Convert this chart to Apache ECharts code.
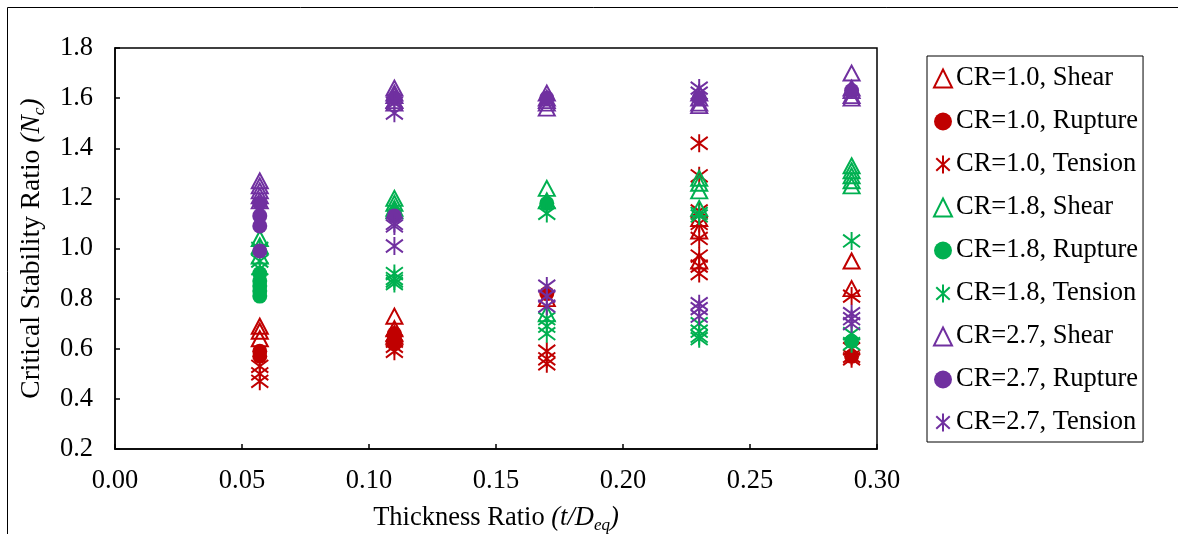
<!DOCTYPE html>
<html>
<head>
<meta charset="utf-8">
<script src="https://cdn.jsdelivr.net/npm/echarts@6/dist/echarts.min.js"></script>
<style>
html,body{margin:0;padding:0;background:#fff;}
#c{width:1178px;height:534px;}
</style>
</head>
<body>
<div id="c"></div>
<script>
// ---- data ----
const xTicks = [0.00, 0.05, 0.10, 0.15, 0.20, 0.25, 0.30];
const yTicks = [0.2, 0.4, 0.6, 0.8, 1.0, 1.2, 1.4, 1.6, 1.8];
const seriesNames = ['CR=1.0, Shear','CR=1.0, Rupture','CR=1.0, Tension','CR=1.8, Shear','CR=1.8, Rupture','CR=1.8, Tension','CR=2.7, Shear','CR=2.7, Rupture','CR=2.7, Tension'];

const cr10Shear = [[0.057,0.69],[0.057,0.67],[0.057,0.64],[0.11,0.73],[0.11,0.68],[0.11,0.66],[0.11,0.65],[0.17,0.80],[0.23,1.12],[0.23,1.07],[0.23,0.95],[0.29,0.95],[0.29,0.84]];
const cr10Rupture = [[0.057,0.59],[0.057,0.57],[0.11,0.66],[0.11,0.64],[0.11,0.62],[0.17,0.82],[0.29,0.57]];
const cr10Tension = [[0.057,0.53],[0.057,0.50],[0.057,0.47],[0.11,0.63],[0.11,0.61],[0.11,0.59],[0.17,0.59],[0.17,0.56],[0.17,0.54],[0.23,1.42],[0.23,1.29],[0.23,1.15],[0.23,1.10],[0.23,1.04],[0.23,0.97],[0.23,0.93],[0.23,0.90],[0.29,0.81],[0.29,0.60],[0.29,0.57],[0.29,0.56]];
const cr18Shear = [[0.057,1.04],[0.057,1.01],[0.057,0.97],[0.11,1.20],[0.11,1.18],[0.11,1.16],[0.11,1.15],[0.17,1.24],[0.17,1.19],[0.17,0.74],[0.23,1.28],[0.23,1.26],[0.23,1.23],[0.23,1.16],[0.29,1.33],[0.29,1.31],[0.29,1.29],[0.29,1.27],[0.29,1.25]];
const cr18Rupture = [[0.057,0.90],[0.057,0.87],[0.057,0.85],[0.057,0.83],[0.057,0.81],[0.11,1.14],[0.17,1.18],[0.29,0.63]];
const cr18Tension = [[0.057,1.00],[0.057,0.95],[0.057,0.92],[0.11,0.90],[0.11,0.88],[0.11,0.87],[0.11,0.86],[0.17,1.14],[0.17,0.72],[0.17,0.69],[0.17,0.66],[0.23,1.14],[0.23,1.13],[0.23,0.70],[0.23,0.67],[0.23,0.65],[0.23,0.64],[0.29,1.03],[0.29,0.66],[0.29,0.62]];
const cr27Shear = [[0.057,1.27],[0.057,1.25],[0.057,1.23],[0.057,1.21],[0.057,1.19],[0.11,1.64],[0.11,1.62],[0.11,1.61],[0.11,1.59],[0.11,1.58],[0.17,1.62],[0.17,1.60],[0.17,1.59],[0.17,1.58],[0.17,1.56],[0.23,1.62],[0.23,1.60],[0.23,1.58],[0.23,1.57],[0.29,1.70],[0.29,1.64],[0.29,1.63],[0.29,1.61],[0.29,1.60]];
const cr27Rupture = [[0.057,1.18],[0.057,1.13],[0.057,1.09],[0.057,0.99],[0.11,1.60],[0.11,1.13],[0.17,1.60],[0.23,1.60],[0.29,1.63]];
const cr27Tension = [[0.11,1.58],[0.11,1.54],[0.11,1.10],[0.11,1.09],[0.11,1.01],[0.17,0.85],[0.17,0.81],[0.17,0.77],[0.23,1.64],[0.23,1.62],[0.23,0.78],[0.23,0.76],[0.23,0.73],[0.29,0.74],[0.29,0.72],[0.29,0.70]];

const allData = [cr10Shear, cr10Rupture, cr10Tension, cr18Shear, cr18Rupture, cr18Tension, cr27Shear, cr27Rupture, cr27Tension];
const colors = ['#C00000','#00B050','#7030A0'];

// ---- styles ----
const FONT = 'Liberation Serif';
const FS = 26.5;
const ASTER = 'path://M5,0L5,12M0.5,1.8L9.5,10.2M0.5,10.2L9.5,1.8';

function makeSeries(i) {
  const color = colors[Math.floor(i / 3)];
  const kind = i % 3;
  const s = { name: seriesNames[i], type: 'scatter', data: allData[i] };
  if (kind === 0) {
    s.symbol = 'triangle';
    s.symbolSize = [16, 15];
    s.itemStyle = { color: 'rgba(0,0,0,0)', borderColor: color, borderWidth: 2, opacity: 1 };
  } else if (kind === 1) {
    s.symbol = 'circle';
    s.symbolSize = 15;
    s.itemStyle = { color: color, borderWidth: 0, opacity: 1 };
  } else {
    s.symbol = ASTER;
    s.symbolSize = [17, 18];
    s.itemStyle = { color: 'rgba(0,0,0,0)', borderColor: color, borderWidth: 2, opacity: 1 };
  }
  return s;
}

const chart = echarts.init(document.getElementById('c'), null, { renderer: 'canvas' });
chart.setOption({
  animation: false,
  backgroundColor: '#fff',
  textStyle: { fontFamily: FONT },
  graphic: [{
    type: 'rect', silent: true, z: -1,
    shape: { x: 7.5, y: 7.5, width: 1400, height: 800 },
    style: { fill: 'none', stroke: '#000', lineWidth: 1 }
  }],
  grid: { left: 115, right: 301, top: 48, bottom: 85, outerBoundsMode: 'none', containLabel: false, show: true, borderColor: '#000', borderWidth: 1.5, backgroundColor: 'transparent' },
  legend: {
    orient: 'vertical', left: 927, top: 56,
    padding: [7, 5, 4, 6],
    itemGap: 12, itemWidth: 18, itemHeight: 18,
    borderColor: '#000', borderWidth: 1,
    data: seriesNames,
    textStyle: { fontFamily: FONT, fontSize: FS, color: '#000', lineHeight: 31, padding: [0,0,0,-1] }
  },
  xAxis: {
    type: 'value', min: 0, max: 0.3, interval: 0.05,
    name: '{n|Thickness Ratio }{i|(t/D}{s|eq}{i|)}',
    nameLocation: 'middle', nameGap: 53,
    nameTextStyle: {
      rich: {
        n: { fontFamily: FONT, fontSize: FS, color: '#000', lineHeight: 32 },
        i: { fontFamily: FONT, fontSize: FS, fontStyle: 'italic', color: '#000', lineHeight: 32 },
        s: { fontFamily: FONT, fontSize: 17, fontStyle: 'italic', color: '#000', lineHeight: 32, verticalAlign: 'bottom' }
      }
    },
    axisLine: { show: true, lineStyle: { color: '#000', width: 1.5 } },
    axisTick: { show: true, inside: true, length: 5, lineStyle: { color: '#000', width: 1.5 } },
    splitLine: { show: false },
    axisLabel: { fontFamily: FONT, fontSize: FS, color: '#000', margin: 19, formatter: v => v.toFixed(2) }
  },
  yAxis: {
    type: 'value', min: 0.2, max: 1.8, interval: 0.2,
    name: '{n|Critical Stability Ratio }{i|(N}{s|c}{i|)}',
    nameLocation: 'middle', nameGap: 67, nameRotate: 90,
    nameTextStyle: {
      rich: {
        n: { fontFamily: FONT, fontSize: 27.5, color: '#000', lineHeight: 32 },
        i: { fontFamily: FONT, fontSize: 27.5, fontStyle: 'italic', color: '#000', lineHeight: 32 },
        s: { fontFamily: FONT, fontSize: 17.5, fontStyle: 'italic', color: '#000', lineHeight: 32, verticalAlign: 'bottom' }
      }
    },
    axisLine: { show: true, lineStyle: { color: '#000', width: 1.5 } },
    axisTick: { show: true, inside: true, length: 5, lineStyle: { color: '#000', width: 1.5 } },
    splitLine: { show: false },
    axisLabel: { fontFamily: FONT, fontSize: FS, color: '#000', margin: 22, formatter: v => v.toFixed(1) }
  },
  series: seriesNames.map((n, i) => makeSeries(i))
});
</script>
</body>
</html>
